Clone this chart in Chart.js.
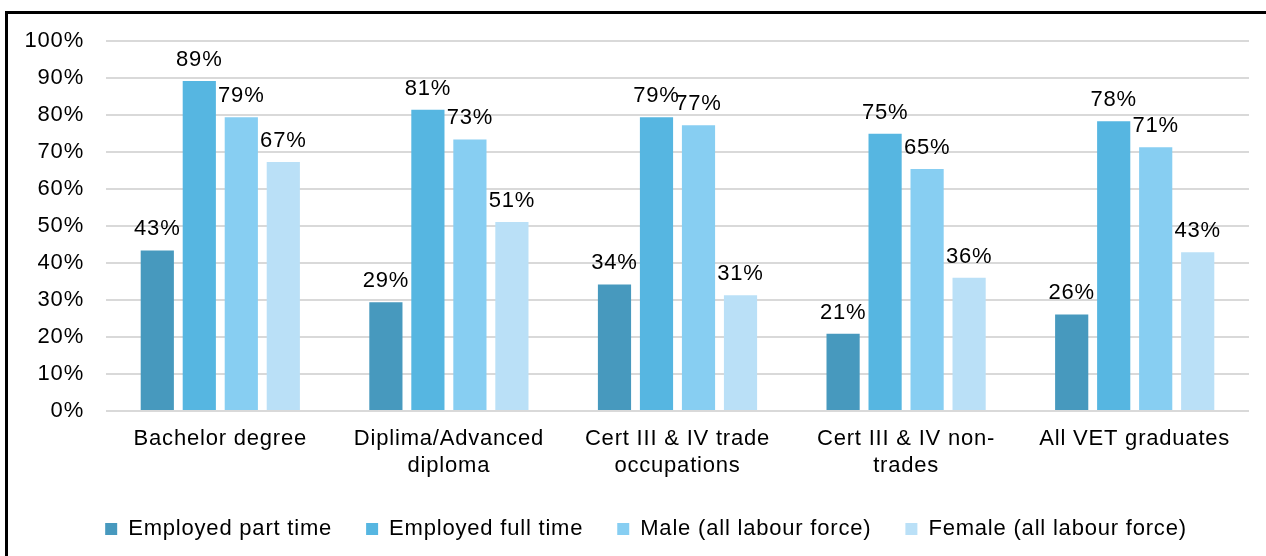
<!DOCTYPE html>
<html>
<head>
<meta charset="utf-8">
<script src="https://cdn.jsdelivr.net/npm/chart.js@4"></script>
<style>
  body { margin: 0; background: #fff; }
  #wrap { position: relative; width: 1266px; height: 556px; overflow: hidden; }
  #moldura { position: absolute; left: 5px; top: 11px; right: -10px; bottom: -10px; border-left: 3px solid #000; border-top: 3px solid #000; pointer-events: none; }
  #myChart { position: absolute; left: 0; top: 0; }
</style>
</head>
<body>
<div id="wrap">
  <canvas id="myChart" width="1266" height="556"></canvas>
  <div id="moldura"></div>
</div>
<script>
// Dados
const categorias = [
    'Bachelor degree',
    ['Diplima/Advanced', 'diploma'],
    ['Cert III & IV trade', 'occupations'],
    ['Cert III & IV non-', 'trades'],
    'All VET graduates'
];
const nomesSeries = ['Employed part time', 'Employed full time', 'Male (all labour force)', 'Female (all labour force)'];
const partTime = [43.4, 29.4, 34.2, 20.9, 26.1];
const fullTime = [89.2, 81.4, 79.4, 74.9, 78.3];
const male = [79.4, 73.4, 77.2, 65.4, 71.3];
const female = [67.3, 51.1, 31.3, 36.0, 42.9];
const yTicks = [0, 10, 20, 30, 40, 50, 60, 70, 80, 90, 100];

const cores = ['#4799be', '#56b6e1', '#87cef2', '#bae0f7'];

Chart.defaults.font.family = "'Liberation Sans', Arial, sans-serif";
Chart.defaults.font.size = 22;
Chart.defaults.color = '#000';

// Espaçamento entre letras (o Excel desenha o texto mais aberto)
const espacamento = {
    id: 'espacamento',
    beforeUpdate(chart) { chart.ctx.letterSpacing = '0.8px'; },
    beforeDraw(chart) { chart.ctx.letterSpacing = '0.8px'; }
};

// Legenda um pouco mais para a direita, como no original
const posicaoLegenda = {
    id: 'posicaoLegenda',
    afterLayout(chart) { chart.legend.left = 43; }
};

// Rótulos em cima das barras
const rotulos = {
    id: 'rotulos',
    afterDatasetsDraw(chart) {
        const ctx = chart.ctx;
        ctx.save();
        ctx.letterSpacing = '0.8px';
        ctx.font = "22px 'Liberation Sans', Arial, sans-serif";
        ctx.fillStyle = '#000';
        ctx.textAlign = 'center';
        ctx.textBaseline = 'alphabetic';
        chart.data.datasets.forEach((ds, i) => {
            chart.getDatasetMeta(i).data.forEach((bar, j) => {
                ctx.fillText(Math.round(ds.data[j]) + '%', bar.x, bar.y - 15);
            });
        });
        ctx.restore();
    }
};

const series = [partTime, fullTime, male, female];

new Chart(document.getElementById('myChart'), {
    type: 'bar',
    data: {
        labels: categorias,
        datasets: series.map((valores, i) => ({
            label: nomesSeries[i],
            data: valores,
            backgroundColor: cores[i],
            borderWidth: 0,
            categoryPercentage: 0.735,
            barPercentage: 0.79
        }))
    },
    options: {
        responsive: false,
        animation: false,
        layout: { padding: { left: 2, right: 17, top: 41, bottom: 6 } },
        scales: {
            x: {
                grid: { display: false },
                border: { display: false },
                ticks: { padding: 7, autoSkip: false, maxRotation: 0 },
                afterFit(axis) { axis.height = 73; }
            },
            y: {
                min: 0,
                max: 100,
                afterBuildTicks(axis) { axis.ticks = yTicks.map(v => ({ value: v })); },
                afterFit(axis) { axis.width = 104; },
                grid: { color: '#d9d9d9', lineWidth: 2, drawTicks: false },
                border: { display: false },
                ticks: { padding: 22, callback: v => v + '%' }
            }
        },
        plugins: {
            legend: {
                position: 'bottom',
                labels: { boxWidth: 12, boxHeight: 12, padding: 34 }
            },
            tooltip: { enabled: false }
        }
    },
    plugins: [espacamento, posicaoLegenda, rotulos]
});
</script>
</body>
</html>
